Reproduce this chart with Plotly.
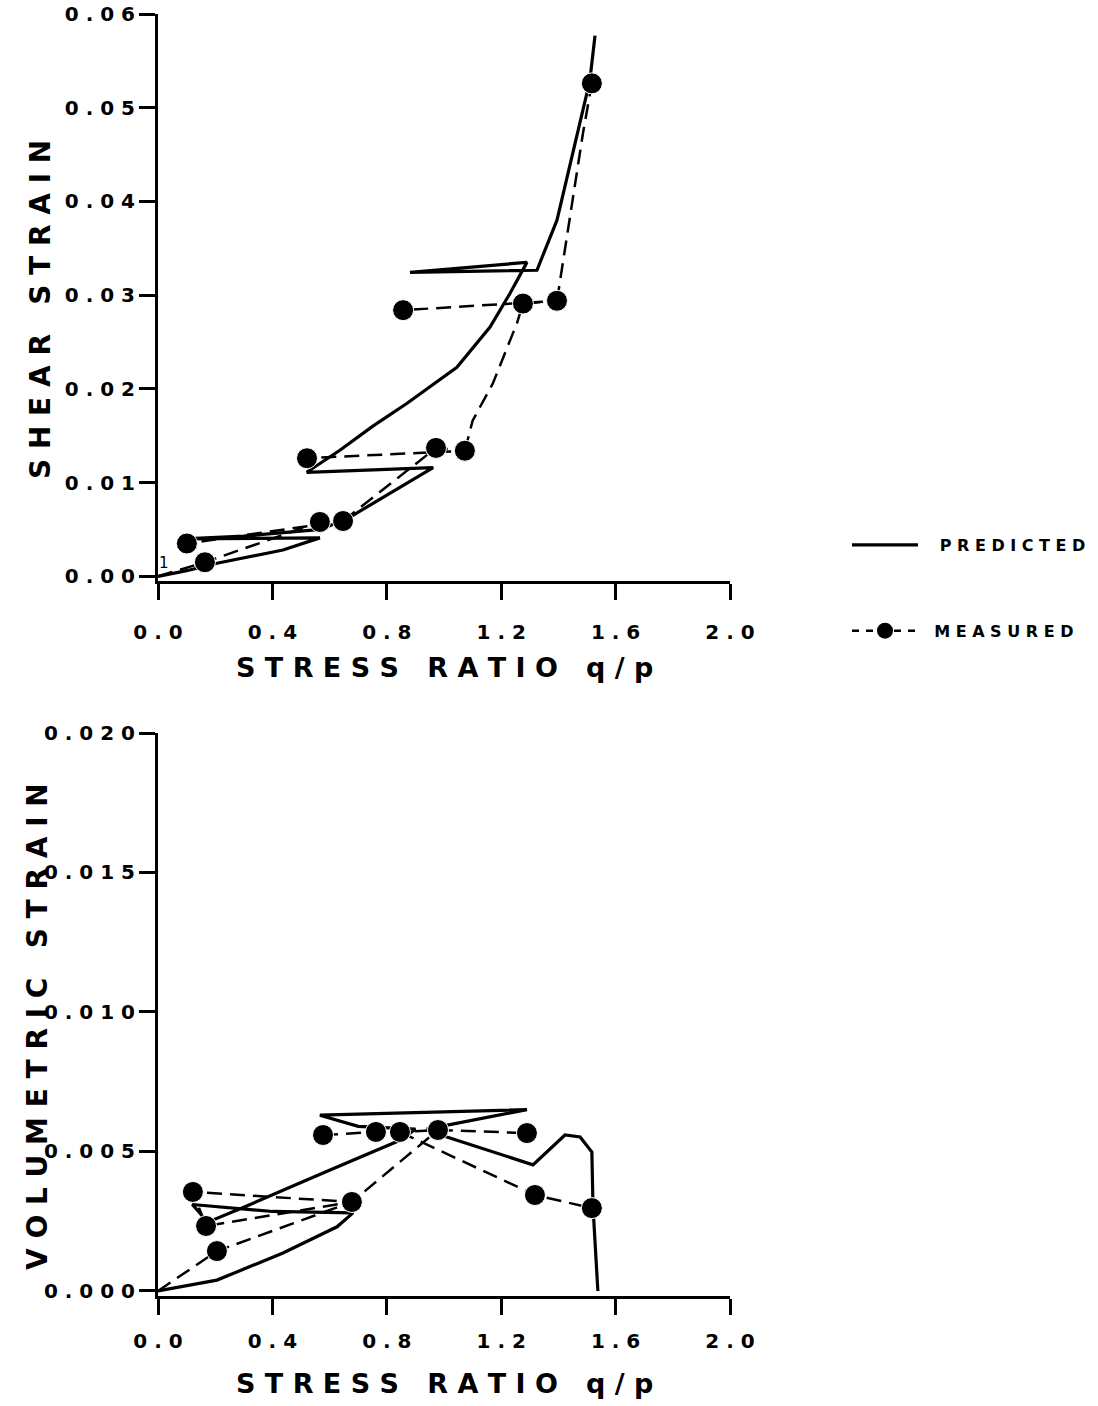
import plotly.graph_objects as go

W, H = 1098, 1406
OFF = 0  # page body margin is removed by the post script below


def fx(px):
    return (px - OFF) / W


def fy(py):
    return 1 - (py - OFF) / H


# ---------------- data: top panel (shear strain) ----------------
pred_q_top = [0.0, 0.10, 0.206, 0.437, 0.566, 0.09, 0.30, 0.57, 0.67, 0.787, 0.962,
              0.52, 0.636, 0.75, 0.871, 1.045, 1.161, 1.231, 1.290, 0.881, 1.325,
              1.395, 1.451, 1.51, 1.528]
pred_shear = [0.0, 0.0006, 0.0014, 0.0028, 0.0041, 0.0040, 0.0043, 0.0050, 0.0063,
              0.0084, 0.0116, 0.0111, 0.01345, 0.0160, 0.01846, 0.0223, 0.0266, 0.0302,
              0.0335, 0.03244, 0.03266, 0.038, 0.0451, 0.0529, 0.0577]

# measured path (None = pen lifted), dot flag marks the measured points
meas_q_top = [0.0, 0.164, 0.566, 0.647, 0.101, None, 0.647, 0.972, 1.073, 0.521, None,
              1.073, 1.10, 1.171, 1.220, 1.255, 1.276, 1.395, 0.857, None,
              1.395, 1.413, 1.44, 1.465, 1.486, 1.517]
meas_shear = [0.0, 0.0015, 0.0058, 0.0059, 0.0035, None, 0.0059, 0.0137, 0.0134, 0.0126,
              None, 0.0134, 0.0166, 0.0206, 0.0244, 0.0270, 0.0291, 0.0294, 0.0284, None,
              0.0294, 0.0330, 0.0383, 0.0436, 0.0473, 0.0526]
meas_dot_top = [0, 1, 1, 1, 1, 0, 0, 1, 1, 1, 0, 0, 0, 0, 0, 0, 1, 1, 1, 0,
                0, 0, 0, 0, 0, 1]

# ---------------- data: bottom panel (volumetric strain) ----------------
pred_q_bot = [0.0, 0.206, 0.437, 0.626, 0.682, 0.40, 0.12, 0.15, 0.17, 0.30, 0.577,
              0.846, 0.90, 0.70, 0.566, 1.29, 0.94, 1.01, 1.311, 1.423, 1.476, 1.517,
              1.521, 1.538]
pred_vol = [0.0, 0.00039, 0.00136, 0.0023, 0.0028, 0.00285, 0.0031, 0.00275, 0.00245,
            0.0030, 0.00423, 0.0054, 0.0058, 0.0059, 0.0063, 0.0065, 0.0058, 0.00552,
            0.00452, 0.00559, 0.00552, 0.00498, 0.00301, 0.0]

meas_q_bot = [0.0, 0.206, 0.678, 0.122, 0.168, 0.678, 0.979, None, 0.577, 0.762, 0.846,
              0.979, 1.290, None, 0.846, 1.318, 1.517]
meas_vol = [0.0, 0.00143, 0.00319, 0.00355, 0.00233, 0.00319, 0.00577, None, 0.00559,
            0.0057, 0.0057, 0.00577, 0.00566, None, 0.0057, 0.00344, 0.00297]
meas_dot_bot = [0, 1, 1, 1, 1, 0, 1, 0, 1, 1, 1, 0, 1, 0, 0, 1, 1]

# ---------------- ticks ----------------
x_tickvals = [0.0, 0.4, 0.8, 1.2, 1.6, 2.0]
x_ticktext = ["0.0", "0.4", "0.8", "1.2", "1.6", "2.0"]
y1_tickvals = [0.0, 0.01, 0.02, 0.03, 0.04, 0.05, 0.06]
y1_ticktext = ["0.00", "0.01", "0.02", "0.03", "0.04", "0.05", "0.06"]
y2_tickvals = [0.0, 0.005, 0.010, 0.015, 0.020]
y2_ticktext = ["0.000", "0.005", "0.010", "0.015", "0.020"]


def spaced(s):
    return " ".join(list(s))


FONT = "DejaVu Sans"
DOT = 21

fig = go.Figure()

for xs, ys, mx, my, md, xa, ya in [
    (pred_q_top, pred_shear, meas_q_top, meas_shear, meas_dot_top, "x", "y"),
    (pred_q_bot, pred_vol, meas_q_bot, meas_vol, meas_dot_bot, "x2", "y2"),
]:
    fig.add_trace(go.Scatter(x=xs, y=ys, mode="lines", xaxis=xa, yaxis=ya,
                             line=dict(color="black", width=3.2),
                             showlegend=False, hoverinfo="skip"))
    fig.add_trace(go.Scatter(x=mx, y=my, mode="lines+markers", xaxis=xa, yaxis=ya,
                             connectgaps=False,
                             line=dict(color="black", width=2.5, dash="15px,8px"),
                             marker=dict(color="black", opacity=1,
                                         size=[DOT if d else 0 for d in md]),
                             showlegend=False, hoverinfo="skip"))

# legend entries
fig.add_trace(go.Scatter(x=[None], y=[None], mode="lines",
                         name="\u00a0\u00a0\u00a0" + spaced("PREDICTED"),
                         line=dict(color="black", width=3.2), legendgroup="p"))
fig.add_trace(go.Scatter(x=[None], y=[None], mode="lines+markers",
                         name="\u00a0\u00a0" + spaced("MEASURED"),
                         line=dict(color="black", width=2.5, dash="7px,7px"),
                         marker=dict(color="black", size=DOT, opacity=1), legendgroup="m"))

axis_common = dict(showline=True, linewidth=3, linecolor="black", ticks="outside",
                   ticklen=16, tickwidth=2.5, tickcolor="black", showgrid=False,
                   zeroline=False, automargin=False, ticklabeloverflow="allow",
                   tickfont=dict(family=FONT, size=20, color="black", weight="bold"))

xdom = [fx(158), fx(730)]
fig.update_layout(
    width=W, height=H,
    template="none",
    margin=dict(l=0, r=0, t=0, b=0),
    paper_bgcolor="white", plot_bgcolor="white",
    xaxis=dict(domain=xdom, anchor="y", range=[0, 2.0], tickvals=x_tickvals,
               ticktext=[spaced(t) for t in x_ticktext], ticklabelstandoff=15,
               **axis_common),
    yaxis=dict(domain=[fy(581), fy(14)], anchor="x", range=[-0.0005, 0.06],
               tickvals=y1_tickvals, ticktext=[spaced(t) for t in y1_ticktext],
               **axis_common),
    xaxis2=dict(domain=xdom, anchor="y2", range=[0, 2.0], tickvals=x_tickvals,
                ticktext=[spaced(t) for t in x_ticktext], ticklabelstandoff=9,
                **axis_common),
    yaxis2=dict(domain=[fy(1296), fy(733)], anchor="x2",
                range=[-0.00018, 0.020], tickvals=y2_tickvals,
                ticktext=[spaced(t) for t in y2_ticktext], **axis_common),
    legend=dict(x=847 / W, y=1 - 528 / H, xanchor="left", yanchor="top",
                bgcolor="rgba(0,0,0,0)", itemwidth=66, tracegroupgap=62,
                font=dict(family=FONT, size=16, color="black", weight="bold")),
    showlegend=True,
)

xt = spaced("STRESS") + "   " + spaced("RATIO") + "   " + spaced("q/p")
annos = [
    dict(text=xt, x=fx(444), y=fy(667), size=27),
    dict(text=xt, x=fx(444), y=fy(1383), size=27),
    dict(text=spaced("SHEAR") + "   " + spaced("STRAIN"), x=fx(41), y=fy(310),
         textangle=-90, size=28),
    dict(text=spaced("VOLUMETRIC") + "   " + spaced("STRAIN"), x=fx(37), y=fy(1027),
         textangle=-90, size=28),
]
for a in annos:
    size = a.pop("size")
    fig.add_annotation(xref="paper", yref="paper", showarrow=False,
                       font=dict(family=FONT, size=size, color="black", weight="bold"),
                       xanchor="center", yanchor="middle", **a)

# small load-stage label near the origin of the upper panel
fig.add_annotation(xref="x", yref="y", x=0.02, y=0.0014, text="1", showarrow=False,
                   font=dict(family=FONT, size=15, color="black"))

fig.write_html("out.html", config={"displayModeBar": False},
               post_script="document.body.style.margin='0';")
